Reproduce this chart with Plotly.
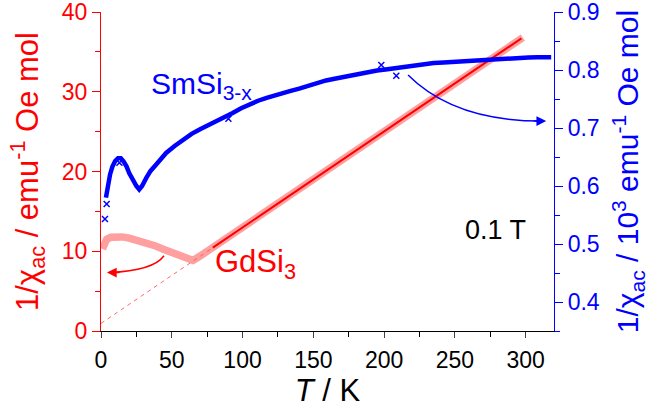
import plotly.graph_objects as go

# ---- data ----
# GdSi3 (left axis, 1/chi_ac in emu^-1 Oe mol)
gd_T = [1.0, 2, 4, 7, 11, 15, 20, 25, 32, 38, 44, 50, 56, 62, 65, 70, 80, 100, 125, 150, 175, 200, 225, 250, 275, 298]
gd_val = [10.3, 10.9, 11.5, 11.75, 11.85, 11.8, 11.65, 11.45, 11.1, 10.7, 10.25, 9.8, 9.35, 8.95, 8.85, 9.4, 10.6, 13.0, 16.0, 19.0, 22.0, 25.0, 28.0, 31.0, 34.0, 36.8]

# Curie-Weiss fit of GdSi3 (solid part and extrapolation)
fit_T = [79, 297]
fit_val = [10.45, 36.7]
ext_T = [0, 79]
ext_val = [0.95, 10.45]

# SmSi3-x (right axis, 1/chi_ac in 10^3 emu^-1 Oe mol)
sm_T = [3.5, 5, 6.4, 8, 10, 12, 14, 16, 18, 20, 22.8, 25, 27, 29, 32, 35, 39, 46, 52, 58, 64, 70, 76, 82,
        88, 93, 99, 105, 111, 117, 122, 128, 134, 140, 146, 152, 159, 165, 171, 177, 183, 189, 195, 201,
        207, 215, 222, 229, 235, 242, 248, 254, 260, 266, 272, 278, 284, 290, 296, 302, 308, 318]
sm_val = [0.580, 0.605, 0.620, 0.633, 0.643, 0.648, 0.648, 0.642, 0.634, 0.622, 0.609, 0.600, 0.594, 0.600,
          0.614, 0.626, 0.637, 0.657, 0.669, 0.680, 0.690, 0.698, 0.705, 0.712, 0.720, 0.726, 0.734, 0.741,
          0.747, 0.752, 0.756, 0.760, 0.764, 0.768, 0.773, 0.777, 0.782, 0.785, 0.788, 0.791, 0.793, 0.796,
          0.799, 0.801, 0.803, 0.806, 0.808, 0.810, 0.812, 0.813, 0.814, 0.815, 0.816, 0.817, 0.818, 0.819,
          0.820, 0.8205, 0.821, 0.8215, 0.822, 0.822]
sm_out_T = [2.8, 4.0, 13, 90, 208.6, 198]
sm_out_val = [0.543, 0.569, 0.640, 0.716, 0.790, 0.8086]

x_ticks = [0, 50, 100, 150, 200, 250, 300]
left_ticks = [0, 10, 20, 30, 40]
right_ticks = [0.4, 0.5, 0.6, 0.7, 0.8, 0.9]

FONT = "Liberation Sans, Arial, sans-serif"
RED = "#ff0000"
BLUE = "#0000ff"
PINK = "rgba(255,150,150,0.9)"

fig = go.Figure()

fig.add_trace(go.Scatter(x=gd_T, y=gd_val, mode="lines", line=dict(color=PINK, width=7.5),
                         yaxis="y", showlegend=False, hoverinfo="skip"))
fig.add_trace(go.Scatter(x=ext_T, y=ext_val, mode="lines", line=dict(color="rgba(255,90,90,0.9)", width=1, dash="4px,4px"),
                         yaxis="y", showlegend=False))
fig.add_trace(go.Scatter(x=fit_T, y=fit_val, mode="lines", line=dict(color=RED, width=2),
                         yaxis="y", showlegend=False))
fig.add_trace(go.Scatter(x=sm_T, y=sm_val, mode="lines", line=dict(color=BLUE, width=4.5),
                         yaxis="y2", showlegend=False))
fig.add_trace(go.Scatter(x=sm_out_T, y=sm_out_val, mode="markers",
                         marker=dict(symbol="x-thin", size=6, line=dict(color=BLUE, width=1.5)),
                         yaxis="y2", showlegend=False))

# curved arrows
fig.add_shape(type="path", xref="x", yref="y", path="M 44.5,9.43 Q 36.9,7.55 6,7.33",
              line=dict(color=RED, width=1.5))
fig.add_annotation(x=4.2, y=7.33, xref="x", yref="y", text="", showarrow=True, ax=14, ay=0,
                   arrowhead=2, arrowsize=1.3, arrowwidth=1.5, arrowcolor=RED)
fig.add_shape(type="path", xref="x", yref="y2", path="M 216.9,0.7914 Q 249.4,0.712 311,0.712",
              line=dict(color=BLUE, width=1.5))
fig.add_annotation(x=314.5, y=0.712, xref="x", yref="y2", text="", showarrow=True, ax=-14, ay=0,
                   arrowhead=2, arrowsize=1.3, arrowwidth=1.5, arrowcolor=BLUE)

# labels
fig.add_annotation(x=33.9, y=30.8, xref="x", yref="y", text="SmSi<sub>3-x</sub>", showarrow=False,
                   xanchor="left", yanchor="middle", font=dict(family=FONT, size=30, color=BLUE))
fig.add_annotation(x=79.0, y=8.4, xref="x", yref="y", text="GdSi<sub>3</sub>", showarrow=False,
                   xanchor="left", yanchor="middle", font=dict(family=FONT, size=31, color=RED))
fig.add_annotation(x=256, y=12.7, xref="x", yref="y", text="0.1 T", showarrow=False,
                   xanchor="left", yanchor="middle", font=dict(family=FONT, size=27, color="black"))

fig.update_layout(
    width=670, height=410,
    margin=dict(l=101, r=116, t=12, b=79),
    plot_bgcolor="white", paper_bgcolor="white",
    font=dict(family=FONT, color="black"),
    xaxis=dict(range=[0, 320], tickvals=x_ticks, ticks="outside", ticklen=6, tickwidth=1, automargin=False,
               linecolor="black", linewidth=1.2, showline=True, showgrid=False, zeroline=False,
               tickfont=dict(size=23, color="black"), ticklabelstandoff=2,
               minor=dict(dtick=25, ticks="outside", ticklen=5, tickcolor="black"),
               title=dict(text="<i>T</i> / K", font=dict(size=31), standoff=0)),
    xaxis2=dict(range=[0, 320], overlaying="x", side="top", showline=True, linecolor="black", linewidth=1.2,
                ticks="inside", dtick=25, tick0=0, ticklen=5, showticklabels=False, showgrid=False,
                zeroline=False, automargin=False),
    yaxis=dict(range=[0, 40], tickvals=left_ticks, ticks="outside", ticklen=8, tickwidth=1, tickcolor=RED,
               linecolor=RED, linewidth=1.2, showline=True, showgrid=False, zeroline=False, automargin=False,
               tickfont=dict(size=23, color=RED), ticklabeloverflow="allow",
               minor=dict(dtick=5, ticks="outside", ticklen=5, tickcolor=RED),
               title=dict(text="1/χ<sub>ac</sub> / emu<sup>-1</sup> Oe mol", font=dict(size=31, color=RED), standoff=13)),
    yaxis2=dict(range=[0.35, 0.9], overlaying="y", side="right", tickvals=right_ticks, tickformat=".1f",
                ticks="outside", ticklen=8, tickwidth=1, tickcolor=BLUE, automargin=False,
                linecolor=BLUE, linewidth=1.2, showline=True, showgrid=False, zeroline=False,
                tickfont=dict(size=23, color=BLUE), ticklabeloverflow="allow",
                minor=dict(dtick=0.05, tick0=0.35, ticks="outside", ticklen=5, tickcolor=BLUE),
                title=dict(text="1/χ<sub>ac</sub> / 10<sup>3</sup> emu<sup>-1</sup> Oe mol", font=dict(size=30, color=BLUE), standoff=18)),
)

# remove the browser's default 8 px body margin so the figure sits at the window's top-left corner
fig.write_html("out.html", config={"displayModeBar": False},
               post_script="document.body.style.margin='0';")
